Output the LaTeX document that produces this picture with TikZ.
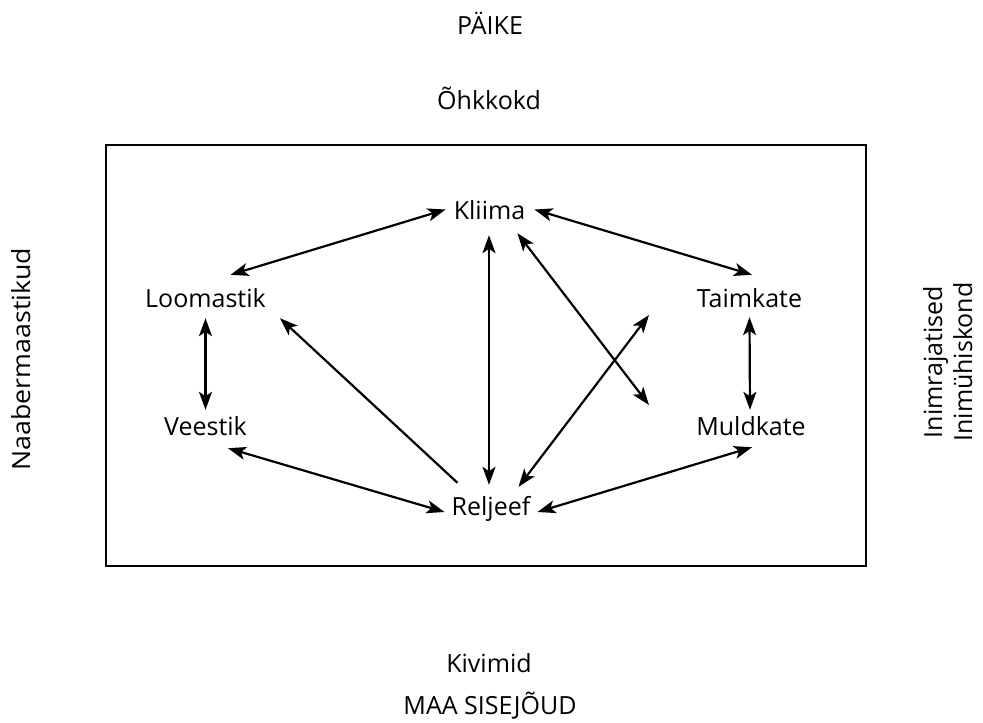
\documentclass[tikz,border=0pt]{standalone}
\usepackage{fontspec}
\setmainfont{Open Sans}
\usetikzlibrary{arrows.meta}

\tikzset{
  elem/.style={font=\fontsize{25}{30}\selectfont, inner sep=0pt, text height=19pt, text depth=0pt, anchor=base},
  lbl/.style={font=\fontsize{25}{30}\selectfont, inner sep=0pt, anchor=base},
  tip/.tip={Stealth[length=18pt,width=13pt,inset=4.5pt]},
  link/.style={line width=2.2pt, tip-tip},
  onelink/.style={line width=2.2pt, -tip}
}

\begin{document}
\begin{tikzpicture}[x=1pt,y=-1pt]
\useasboundingbox (0,0) rectangle (983,723);
% outer factors
\node[lbl] (paike) at (490,34) {PÄIKE};
\node[lbl] (ohk) at (489,109) {Õhkkokd};
\node[lbl] (kivimid) at (489,672) {Kivimid};
\node[lbl] (sisejoud) at (490,714) {MAA SISEJÕUD};
\node[lbl, rotate=90, xscale=1.07] (naaber) at (30,359) {Naabermaastikud};
\node[lbl, rotate=90] (inimraj) at (942,362) {Inimrajatised};
\node[lbl, rotate=90] (inimuh) at (972,362) {Inimühiskond};
% landscape
\draw[line width=2.2pt] (106,145) rectangle (866,566);
\node[elem] (kliima) at (489.5,219) {Kliima};
\node[elem] (loomastik) at (205.5,307) {Loomastik};
\node[elem] (taimkate) at (749.5,307) {Taimkate};
\node[elem] (veestik) at (205.5,435) {Veestik};
\node[elem] (muldkate) at (751,435) {Muldkate};
\node[elem] (reljeef) at (491,515) {Reljeef};
\coordinate (risti1) at (649,405);
\coordinate (risti2) at (649,315);
% links
\draw[link] ([shift={(-8,0)}]kliima.west) -- ([shift={(25,-13)}]loomastik.north);
\draw[link] ([shift={(9,0)}]kliima.east) -- ([shift={(2.5,-13)}]taimkate.north);
\draw[link] ([shift={(-0.5,16)}]kliima.south) -- ([shift={(-2,-11)}]reljeef.north);
\draw[link] ([shift={(-8,14)}]kliima.south east) -- (risti1);
\draw[link] ([shift={(-12,-9)}]reljeef.north east) -- (risti2);
\draw[onelink] ([shift={(6,-13)}]reljeef.north west) -- ([shift={(14,11)}]loomastik.south east);
\draw[link] ([shift={(0,11)}]loomastik.south) -- ([shift={(0,-6)}]veestik.north);
\draw[link] ([shift={(0,10)}]taimkate.south) -- ([shift={(-1,-6)}]muldkate.north);
\draw[link] ([shift={(-19,13)}]veestik.south east) -- ([shift={(-7,6.5)}]reljeef.west);
\draw[link] ([shift={(1,12)}]muldkate.south) -- ([shift={(7,6.5)}]reljeef.east);
\end{tikzpicture}
\end{document}
